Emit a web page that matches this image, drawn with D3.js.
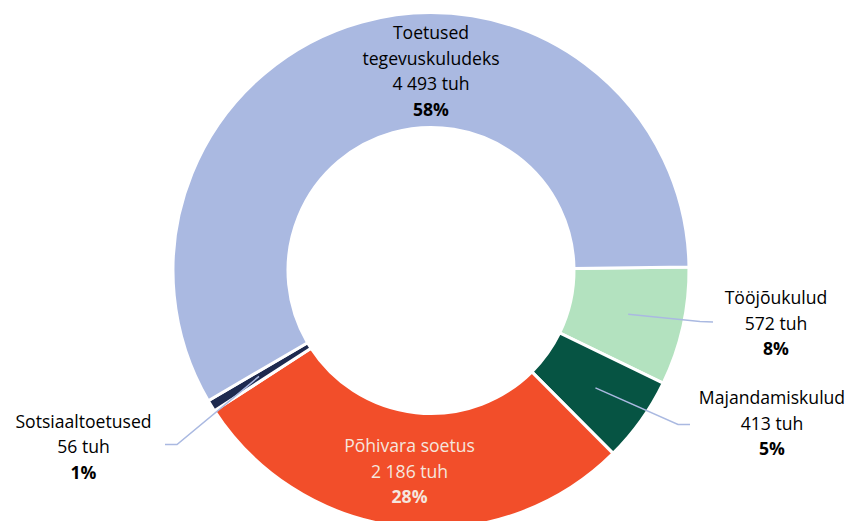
<!DOCTYPE html>
<html><head><meta charset="utf-8">
<script src="https://cdn.jsdelivr.net/npm/d3@7"></script>
<style>body{margin:0;background:#fff}svg{display:block}text{font-family:"Open Sans",sans-serif}</style>
</head><body>
<svg id="c" width="855" height="521"></svg>
<script>
const categories = ["Tööjõukulud","Majandamiskulud","Põhivara soetus","Sotsiaaltoetused","Toetused tegevuskuludeks"];
const values = [572, 413, 2186, 56, 4493];
const valueLabels = ["572 tuh","413 tuh","2 186 tuh","56 tuh","4 493 tuh"];
const percentLabels = ["8%","5%","28%","1%","58%"];
const colors = ["#B3E2BF","#065443","#F24E2A","#1E2A4F","#AAB9E1"];

const W=855,H=521, cx=431, cy=270.5, R=258, r=143, leaderR=202;
const startDeg = 89.2;
const svg = d3.select("#c");
const g = svg.append("g").attr("transform",`translate(${cx},${cy})`);
const pie = d3.pie().sort(null).value(d=>d)
  .startAngle(startDeg*Math.PI/180).endAngle((startDeg+360)*Math.PI/180);
const arcs = pie(values);
const arc = d3.arc().innerRadius(r).outerRadius(R);
const mid = d3.arc().innerRadius(leaderR).outerRadius(leaderR);

g.selectAll("path.s").data(arcs).enter().append("path")
  .attr("d",arc).attr("fill",(d,i)=>colors[i])
  .attr("stroke","#fff").attr("stroke-width",3).attr("stroke-linejoin","miter");

// label layout (absolute page positions of label centres / leader ends)
const labelPos = [
  {x:776, y:298, lines:["Tööjõukulud"], leader:[[700,321.5],[713,322]]},
  {x:772, y:398, lines:["Majandamiskulud"], leader:[[678,424.5],[690,424.5]]},
  {x:null, y:null, lines:["Põhivara soetus"], inside:true, fill:"#F5E6DE"},
  {x:83.5, y:421.5, lines:["Sotsiaaltoetused"], leader:[[177,444.5],[165,444.5]]},
  {x:431, y:33, lines:["Toetused","tegevuskuludeks"]}
];
const lh = 25.5;
const lineColor = "#AAB9E1";

arcs.forEach((a,i)=>{
  const L = labelPos[i];
  const c = mid.centroid(a);
  if (L.leader){
    const pts = [[c[0]+cx,c[1]+cy]].concat(L.leader);
    svg.append("path").attr("d",d3.line()(pts)).attr("fill","none")
      .attr("stroke",lineColor).attr("stroke-width",1.5);
  }
  let x=L.x, y=L.y;
  if (L.inside){ x=c[0]+cx; y=c[1]+cy-lh; }
  const lines = L.lines.concat([valueLabels[i], percentLabels[i]]);
  const t = svg.append("text").attr("text-anchor","middle")
    .attr("fill", L.fill||"#000").attr("font-size",17.6);
  lines.forEach((s,k)=>{
    t.append("tspan").attr("x",x).attr("y",y+k*lh).attr("dy","0.35em")
      .attr("font-weight", k===lines.length-1?"bold":"normal").text(s);
  });
});
</script>
</body></html>
